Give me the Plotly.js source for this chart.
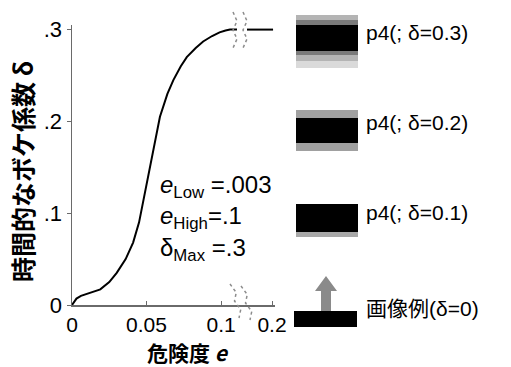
<!DOCTYPE html>
<html><head><meta charset="utf-8">
<script src="https://cdn.plot.ly/plotly-3.0.1.min.js"></script>
<style>html,body{margin:0;padding:0;background:#fff;}#chart{width:511px;height:367px;}</style>
</head><body><div id="chart"></div>
<script>
// ---- data ----
const riskE = [0, 0.003, 0.006, 0.012, 0.019, 0.025, 0.030, 0.036, 0.041, 0.045, 0.048, 0.052, 0.056, 0.059, 0.064, 0.068, 0.073, 0.077, 0.083, 0.088, 0.094, 0.099, 0.103, 0.106, 0.1107];
const deltaVal = [0, 0.007, 0.010, 0.013, 0.017, 0.025, 0.035, 0.050, 0.068, 0.090, 0.114, 0.150, 0.182, 0.205, 0.230, 0.245, 0.260, 0.270, 0.280, 0.287, 0.293, 0.297, 0.299, 0.300, 0.300];
const plateauE = [0.1174, 0.1349];
const plateauDelta = [0.3, 0.3];
const xTickVals = [0, 0.05, 0.1, 0.1342];
const xTickText = ['0', '0.05', '0.1', '0.2'];
const yTickVals = [0, 0.1, 0.2, 0.3];
const yTickText = ['0', '.1', '.2', '.3'];
const exampleDeltas = [0.3, 0.2, 0.1, 0];
const paramLabels = ['<i>e</i><sub>Low</sub> =.003', '<i>e</i><sub>High</sub>=.1', 'δ<sub>Max</sub> =.3'];

// ---- layout helpers (pixel -> paper) ----
const W = 511, H = 367, ML = 72, MR = 236, MT = 25, MB = 62;
const PW = W - ML - MR, PH = H - MT - MB;
const px = x => (x - ML) / PW;
const py = y => (H - MB - y) / PH;

const shapes = [];
function rect(x0, x1, y0, y1, color) {
  shapes.push({type: 'rect', xref: 'paper', yref: 'paper', x0: px(x0), x1: px(x1), y0: py(y1), y1: py(y0),
    fillcolor: color, line: {width: 0}, layer: 'above'});
}
// example image 1 (δ=0.3): blurred
rect(296, 358, 60, 68, '#dadada');
rect(296, 358, 15, 22, '#b4b4b4');
rect(296, 358, 20, 26, '#7a7a7a');
rect(296, 358, 50, 56, '#7a7a7a');
rect(296, 358, 55, 61, '#b4b4b4');
rect(296, 358, 25, 51, '#000');
// example 2 (δ=0.2)
rect(296, 358, 110, 118, '#a0a0a0');
rect(296, 358, 143, 151, '#a0a0a0');
rect(296, 358, 118, 143, '#000');
// example 3 (δ=0.1)
rect(296, 358, 231, 237, '#a8a8a8');
rect(296, 358, 204, 232, '#000');
// example 4 (δ=0)
rect(294, 357, 311, 327, '#000');
// arrow
function path(pts) { return pts.map((p, i) => (i ? 'L' : 'M') + px(p[0]) + ',' + py(p[1])).join(' ') + ' Z'; }
shapes.push({type: 'path', xref: 'paper', yref: 'paper', layer: 'above',
  path: path([[321, 311], [321, 291], [315, 291], [326, 276], [337, 291], [331, 291], [331, 311]]),
  fillcolor: '#8a8a8a', line: {width: 0}});
// axis-break marks
function wave(x0, y0, x1, y1, amp) {
  let s = '';
  const n = 4;
  for (let i = 0; i <= n; i++) {
    const t = i / n;
    const x = x0 + (x1 - x0) * t + (i % 2 ? amp : -amp);
    const y = y0 + (y1 - y0) * t;
    s += (i ? 'L' : 'M') + px(x) + ',' + py(y) + ' ';
  }
  return s;
}
[[235, 12, 235, 48], [245, 12, 245, 48], [232, 284, 241, 318], [243, 286, 252, 320]].forEach(b => {
  shapes.push({type: 'path', xref: 'paper', yref: 'paper', layer: 'above', path: wave(b[0], b[1], b[2], b[3], 2),
    line: {color: '#8c8c8c', width: 1.5, dash: 'dot'}});
});

const annotations = [];
const exY = [32, 122, 212, 308];
exampleDeltas.forEach((d, i) => {
  annotations.push({xref: 'paper', yref: 'paper', x: px(364), y: py(exY[i]), xanchor: 'left', yanchor: 'middle',
    showarrow: false, text: d > 0 ? 'p4(; δ=' + d.toFixed(1) + ')' : '画像例(δ=0)',
    font: {family: 'Liberation Sans, Noto Sans CJK JP', size: 21, color: '#000'}});
});
const paramY = [0.129, 0.095, 0.061];
paramLabels.forEach((t, i) => {
  annotations.push({xref: 'x', yref: 'y', x: 0.0577, y: paramY[i], xanchor: 'left', yanchor: 'middle',
    showarrow: false, text: t, font: {family: 'Liberation Sans', size: 24, color: '#000'}});
});
annotations.push({xref: 'paper', yref: 'paper', x: px(22), y: py(172), textangle: -90, showarrow: false,
  xanchor: 'center', yanchor: 'middle', text: '時間的なボケ係数 δ',
  font: {family: 'Noto Sans CJK JP', size: 25, color: '#000', weight: 700}});
annotations.push({xref: 'paper', yref: 'paper', x: px(188), y: py(352), showarrow: false, borderpad: 0,
  xanchor: 'center', yanchor: 'middle', text: '危険度 <i>e</i>',
  font: {family: 'Noto Sans CJK JP', size: 21, color: '#000', weight: 700}});

const traces = [
  {x: riskE, y: deltaVal, type: 'scatter', mode: 'lines', line: {color: '#000', width: 2}, cliponaxis: false, hoverinfo: 'none'},
  {x: plateauE, y: plateauDelta, type: 'scatter', mode: 'lines', line: {color: '#000', width: 2}, cliponaxis: false, hoverinfo: 'none'}
];

const layout = {
  width: W, height: H, margin: {l: ML, r: MR, t: MT, b: MB}, showlegend: false,
  paper_bgcolor: '#fff', plot_bgcolor: '#fff',
  font: {family: 'Liberation Sans', color: '#000'},
  xaxis: {range: [0, 0.1362], tickvals: xTickVals, ticktext: xTickText, showgrid: false, zeroline: false,
    showline: true, linecolor: '#6a6a6a', linewidth: 1.5, ticks: 'inside', ticklen: 4, tickcolor: '#6a6a6a',
    tickfont: {size: 21, family: 'Liberation Sans'}, fixedrange: true},
  yaxis: {range: [0, 0.305], tickvals: yTickVals, ticktext: yTickText, showgrid: false, zeroline: false,
    showline: true, linecolor: '#6a6a6a', linewidth: 1.5, ticks: 'outside', ticklen: 4, tickcolor: '#6a6a6a',
    tickfont: {size: 22, family: 'Liberation Sans'}, fixedrange: true},
  shapes: shapes, annotations: annotations
};
Plotly.newPlot('chart', traces, layout, {staticPlot: true, displayModeBar: false});
</script></body></html>
